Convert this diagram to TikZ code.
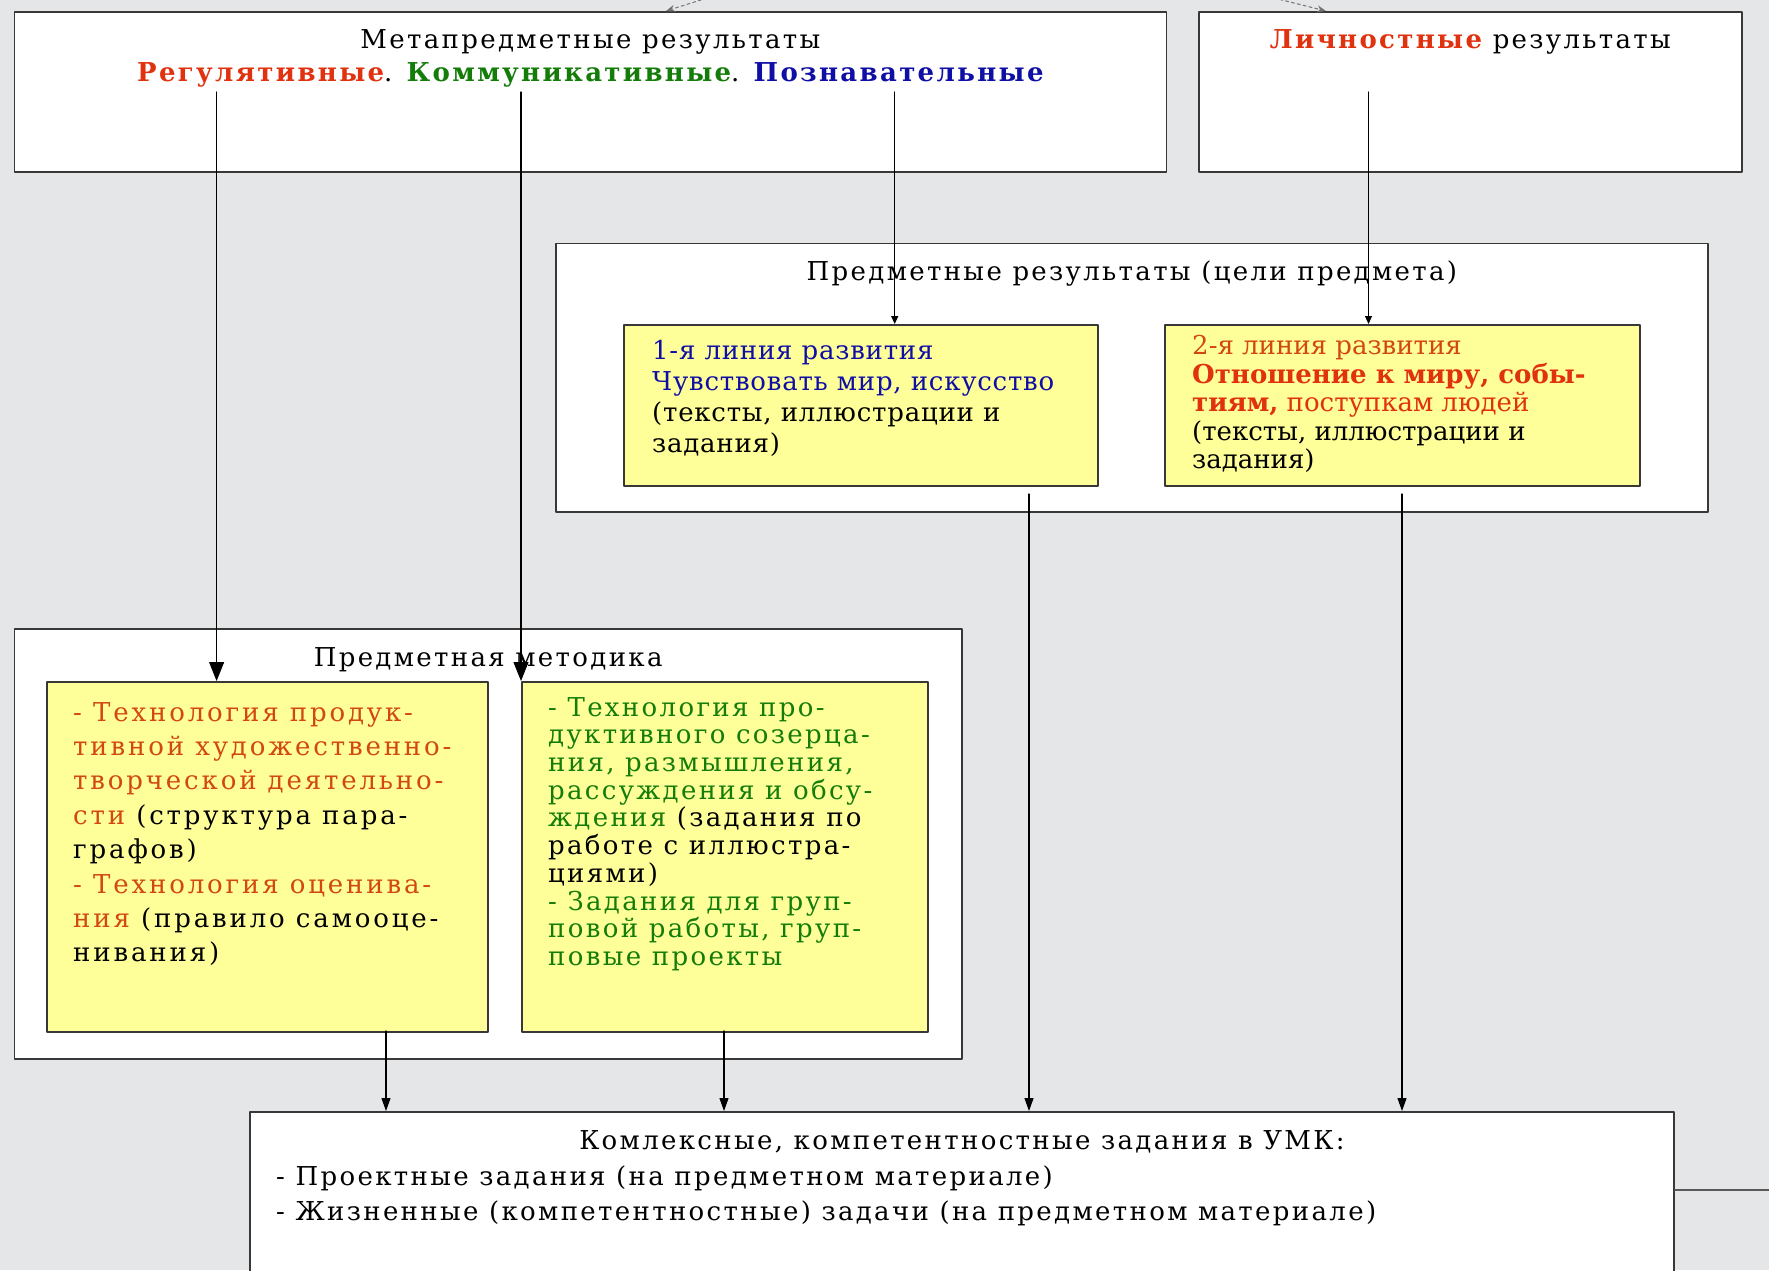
\documentclass[tikz,border=0pt]{standalone}
\usepackage{fontspec}
\setmainfont{DejaVu Serif}
\usetikzlibrary{arrows.meta,positioning}

\definecolor{redtxt}{RGB}{225,50,15}
\definecolor{orngtxt}{RGB}{210,72,15}
\definecolor{grntxt}{RGB}{20,125,10}
\definecolor{bluetxt}{RGB}{15,15,165}
\definecolor{yelbg}{RGB}{255,255,153}
\definecolor{pagebg}{RGB}{229,230,232}

\newcommand{\sized}[3]{\fontsize{#1}{#2}\selectfont\addfontfeature{LetterSpace=#3}}

\tikzset{
  bigbox/.style={draw=black!78,line width=1.8pt,fill=white,anchor=north west,inner sep=0pt},
  yelbox/.style={bigbox,fill=yelbg},
  ttl/.style={inner sep=0pt,align=center,font=\sized{26}{33}{9}},
  body/.style={inner sep=0pt,align=left,anchor=north west},
  arr/.style={-{Triangle[length=13pt,width=9pt]},line width=1.1pt},
  bigarr/.style={-{Triangle[length=19pt,width=15pt]},line width=1.1pt},
  smallarr/.style={-{Triangle[length=8pt,width=7pt]},line width=1.1pt},
  grayarr/.style={-{Stealth[length=9pt,width=7pt]},black!55,dashed,line width=1pt}
}

\begin{document}
\begin{tikzpicture}[line cap=round,line join=round,x=1pt,y=-1pt]
\clip (0,0) rectangle (1769,1270);
\fill[pagebg] (0,0) rectangle (1769,1270);
% results
\node[bigbox,minimum width=1152pt,minimum height=160pt] (meta) at (13.5,11) {};
\node[bigbox,minimum width=543pt,minimum height=160pt] (lich) at (1198,11) {};
\node[ttl,below=18pt of meta.north] (metaT) {Метапредметные результаты\\
  {\bfseries\color{redtxt}Регулятивные}. {\bfseries\color{grntxt}Коммуникативные}. {\bfseries\color{bluetxt}Познавательные}};
\node[ttl,below=18pt of lich.north] (lichT) {{\bfseries\color{redtxt}Личностные} результаты};
% subject results
\node[bigbox,minimum width=1152pt,minimum height=268.5pt] (pres) at (555,242.5) {};
\node[ttl,below=18pt of pres.north] (presT) {Предметные результаты (цели предмета)};
\node[yelbox,minimum width=474pt,minimum height=161pt] (line1) at (623,324) {};
\node[yelbox,minimum width=475pt,minimum height=161pt] (line2) at (1164,324) {};
\node[body,font=\sized{26}{31}{3},below right=16pt and 29pt of line1.north west] (line1T)
  {{\color{bluetxt}1-я линия развития}\\
   {\color{bluetxt}Чувствовать мир, искусство}\\
   (тексты, иллюстрации и\\
   задания)};
\node[body,font=\sized{26}{28.5}{0},below right=11pt and 28pt of line2.north west] (line2T)
  {{\color{orngtxt}2-я линия развития}\\
   {\bfseries\color{redtxt}Отношение к миру, собы-}\\
   {\color{redtxt}\bfseries тиям,} {\color{redtxt}поступкам людей}\\
   (тексты, иллюстрации и\\
   задания)};
% methods
\node[bigbox,minimum width=947.5pt,minimum height=430pt] (metod) at (13.5,628) {};
\node[ttl,below=19pt of metod.north] (metodT) {Предметная методика};
\node[yelbox,minimum width=441pt,minimum height=350pt] (tech1) at (46,681) {};
\node[yelbox,minimum width=406pt,minimum height=350pt] (tech2) at (521,681) {};
\node[body,font=\sized{26}{34.4}{11},below right=21pt and 27pt of tech1.north west] (tech1T)
  {{\color{orngtxt}- Технология продук-}\\
   {\color{orngtxt}тивной художественно-}\\
   {\color{orngtxt}творческой деятельно-}\\
   {\color{orngtxt}сти} (структура пара-\\
   графов)\\
   {\color{orngtxt}- Технология оценива-}\\
   {\color{orngtxt}ния} (правило самооце-\\
   нивания)};
\node[body,font=\sized{26}{27.7}{9},below right=16pt and 27pt of tech2.north west] (tech2T)
  {{\color{grntxt}- Технология про-}\\
   {\color{grntxt}дуктивного созерца-}\\
   {\color{grntxt}ния, размышления,}\\
   {\color{grntxt}рассуждения и обсу-}\\
   {\color{grntxt}ждения} (задания по\\
   работе с иллюстра-\\
   циями)\\
   {\color{grntxt}- Задания для груп-}\\
   {\color{grntxt}повой работы, груп-}\\
   {\color{grntxt}повые проекты}};
% tasks
\node[bigbox,minimum width=1424pt,minimum height=190pt] (umk) at (249,1111) {};
\node[ttl,below=19pt of umk.north] (umkT) {Комлексные, компетентностные задания в УМК:};
\node[body,font=\sized{26}{35}{9},below right=55pt and 27pt of umk.north west] (umkL)
  {- Проектные задания (на предметном материале)\\
   - Жизненные (компетентностные) задачи (на предметном материале)};
% connectors
\coordinate (reg) at (216.6,92);
\coordinate (kom) at (521,92);
\coordinate (poz) at (894.7,92);
\coordinate (lichout) at (1368.5,92);
\draw[bigarr] (reg) -- (reg |- tech1.north);
\draw[bigarr] (kom) -- (kom |- tech2.north);
\draw[smallarr] (poz) -- (poz |- line1.north);
\draw[smallarr] (lichout) -- (lichout |- line2.north);
\coordinate (l1out) at (1029,494);
\coordinate (l2out) at (1402,494);
\coordinate (t1out) at (386,1031);
\coordinate (t2out) at (724,1031);
\draw[arr] (t1out) -- (t1out |- umk.north);
\draw[arr] (t2out) -- (t2out |- umk.north);
\draw[arr] (l1out) -- (l1out |- umk.north);
\draw[arr] (l2out) -- (l2out |- umk.north);
\coordinate (umkout) at (1769,1190);
\draw[line width=1.1pt,black!65] (umkout -| umk.east) -- (umkout);
% arrows from above
\coordinate (topA) at (707,-2);
\coordinate (topB) at (1274,-2);
\coordinate (tipA) at (666,0);
\coordinate (tipB) at (1326,0);
\draw[grayarr] (topA) -- (tipA |- meta.north);
\draw[grayarr] (topB) -- (tipB |- lich.north);
\end{tikzpicture}
\end{document}
